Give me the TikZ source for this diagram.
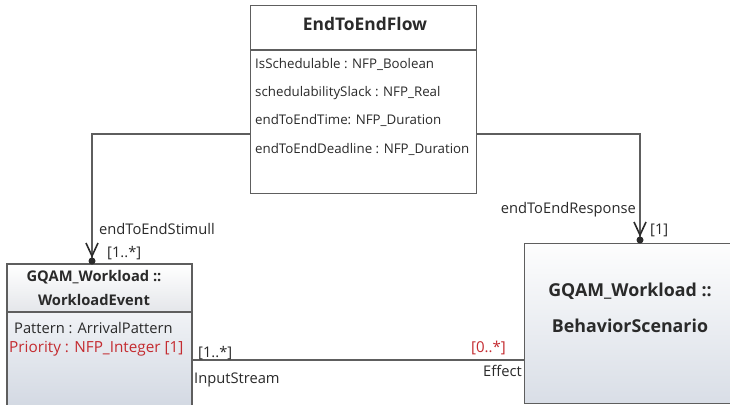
\documentclass[tikz,border=0pt]{standalone}
\usepackage{fontspec}
\setmainfont{Open Sans}
\definecolor{edge}{HTML}{5E5E5E}
\definecolor{txt}{HTML}{2A2A2A}
\definecolor{redtxt}{HTML}{C42B30}
\definecolor{bodybot}{HTML}{D2D8E2}
\definecolor{headbot}{HTML}{E4E6EA}
\tikzset{
  box/.style={draw=edge, line width=1.4pt, rectangle, inner sep=0pt, anchor=north west},
  conn/.style={draw=edge, line width=1.4pt},
  barb/.style={draw=txt, line width=1.6pt},
  tip/.style={fill=txt, circle, inner sep=0pt, minimum size=7pt},
  lbl/.style={inner sep=0pt, text=txt, font=\fontsize{14.7}{17}\selectfont},
  attr/.style={lbl, anchor=base west, font=\fontsize{13.3}{16}\selectfont},
  ttl/.style={inner sep=0pt, text=txt, font=\bfseries\fontsize{17.4}{20}\selectfont, anchor=base},
}
\begin{document}
\begin{tikzpicture}[x=1pt,y=-1pt]
\useasboundingbox (0,0) rectangle (730,404);
\fill[white] (0,0) rectangle (730,404);
\clip (0,0) rectangle (730,404);

% EndToEndFlow class
\node[box, fill=white, minimum width=226, minimum height=188] (flow) at (250,5) {};
\draw[conn] (250,50) -- (476,50);
\node[ttl] (flowttl) at (365,31) {EndToEndFlow};
\node[attr] (f1) at (255,68) {IsSchedulable : NFP\_Boolean};
\node[attr] (f2) at (255,96) {schedulabilitySlack : NFP\_Real};
\node[attr] (f3) at (255,124) {endToEndTime: NFP\_Duration};
\node[attr] (f4) at (255,153) {endToEndDeadline : NFP\_Duration};

% WorkloadEvent class
\node[box, top color=white, bottom color=bodybot, minimum width=185, minimum height=145] (wev) at (7,264) {};
\fill[top color=white, bottom color=headbot] (7.7,264.7) rectangle (191.3,312);
\draw[conn] (7,312) -- (192,312);
\draw[edge, line width=1.4pt] (7,264) rectangle (192,409);
\node[ttl, font=\bfseries\fontsize{14.7}{17}\selectfont] (wevt1) at (94,281) {GQAM\_Workload ::};
\node[ttl, font=\bfseries\fontsize{14.7}{17}\selectfont] (wevt2) at (94,305) {WorkloadEvent};
\node[attr, font=\fontsize{14.7}{17}\selectfont] (w1) at (14,333) {Pattern : ArrivalPattern};
\node[attr, text=redtxt, font=\fontsize{15.3}{17}\selectfont] (w2) at (9,352) {Priority : NFP\_Integer [1]};

% BehaviorScenario class
\node[box, top color=white!96!bodybot, bottom color=bodybot!85!white, minimum width=215, minimum height=160] (bsc) at (524,243) {};
\node[ttl, font=\bfseries\fontsize{17.8}{20}\selectfont] (bsct1) at (630,296) {GQAM\_Workload ::};
\node[ttl, font=\bfseries\fontsize{17.8}{20}\selectfont] (bsct2) at (630,332) {BehaviorScenario};

% association corners and ends
\coordinate (lcorner) at (92,134);
\coordinate (rcorner) at (640,134);
\coordinate (lend) at (wev.north -| lcorner);
\coordinate (rend) at (bsc.north -| rcorner);

% endToEndStimull
\draw[conn] (flow.west |- lcorner) -- (lcorner) -- (lend);
\draw[barb] ([xshift=-6pt,yshift=21pt]lend) -- ([yshift=8pt]lend) -- ([xshift=6pt,yshift=21pt]lend);
\node[tip] (ltip) at ([yshift=3pt]lend) {};
\node[lbl, anchor=base west] (stim) at (99,234) {endToEndStimull};
\node[lbl, anchor=base west] (stimm) at (107,257) {[1..*]};

% endToEndResponse
\draw[conn] (flow.east |- rcorner) -- (rcorner) -- (rend);
\draw[barb] ([xshift=-6pt,yshift=21pt]rend) -- ([yshift=8pt]rend) -- ([xshift=6pt,yshift=21pt]rend);
\node[tip] (rtip) at ([yshift=3pt]rend) {};
\node[lbl, anchor=base east] (resp) at (636,213) {endToEndResponse};
\node[lbl, anchor=base west] (respm) at (650,234) {[1]};

% InputStream / Effect
\coordinate (lowl) at (192,360);
\draw[conn] (wev.east |- lowl) -- (bsc.west |- lowl);
\node[lbl, anchor=base west] (inm) at (198,357) {[1..*]};
\node[lbl, anchor=base west] (inl) at (194,383) {InputStream};
\node[lbl, anchor=base east, text=redtxt, font=\fontsize{15}{17}\selectfont] (effm) at (506,352) {[0..*]};
\node[lbl, anchor=base east] (effl) at (522,376) {Effect};
\end{tikzpicture}
\end{document}
